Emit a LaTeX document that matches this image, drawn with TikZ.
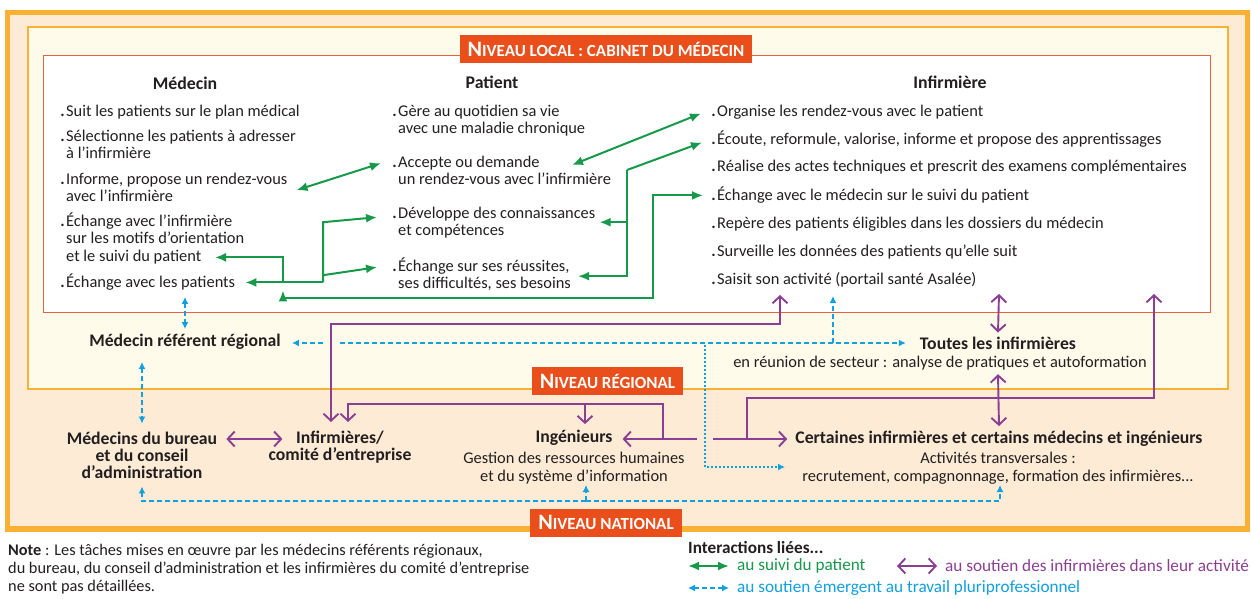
\documentclass[tikz,border=0pt]{standalone}
\usepackage{fontspec}
\setmainfont{Carlito}
\usetikzlibrary{arrows.meta,calc}
\definecolor{orng}{HTML}{F8B133}
\definecolor{peach}{HTML}{FDEBD6}
\definecolor{cream}{HTML}{FFFBEB}
\definecolor{redl}{HTML}{E8603C}
\definecolor{tbox}{HTML}{E94E1B}
\definecolor{gr}{HTML}{17994A}
\definecolor{bl}{HTML}{12A0E0}
\definecolor{pu}{HTML}{8B3F93}
\definecolor{tx}{HTML}{231F20}
\newcommand\bodyfont{\fontsize{16.4}{17.5}\selectfont\lineskiplimit=-10pt\relax}
\newcommand\lblfont{\bfseries\fontsize{17.7}{17}\selectfont\lineskiplimit=-10pt\relax}
\newcommand\notefont{\fontsize{16.3}{18}\selectfont\lineskiplimit=-10pt\relax}
\newcommand\sst{\rule{0pt}{14pt}}
\newcommand\dst{\rule[-4.5pt]{0pt}{4.5pt}}
\newcommand\bul{\makebox[0pt][r]{\textbf{.}\hspace{1.5pt}}}
\newcommand\smc[2]{{\fontsize{22}{22}\selectfont #1}{\fontsize{17}{17}\selectfont #2}}
\newcommand\IT[4]{\node[itm] (#1) at (#2,#3-10) {\bul\sst #4\dst};}
\tikzset{
  itm/.style={anchor=north west, inner sep=0pt, align=left, font=\bodyfont, text=tx},
  hdr/.style={inner sep=0pt, font=\bfseries\fontsize{17.8}{19}\selectfont, text=tx},
  lbl/.style={inner sep=0pt, align=center, font=\lblfont, text=tx},
  sub/.style={inner sep=0pt, align=center, font=\bodyfont, text=tx},
  lvl/.style={fill=tbox, text=white, font=\bfseries, inner sep=0pt, minimum height=28pt},
  leg/.style={anchor=west, inner sep=0pt, font=\fontsize{17.2}{18}\selectfont},
  gar/.style={draw=gr, line width=2pt, >={Latex[length=11pt,width=9pt]}},
  bar/.style={draw=bl, line width=1.6pt, dash pattern=on 5pt off 3pt, >={Latex[length=7pt,width=7pt]}},
  bdot/.style={draw=bl, line width=1.4pt, dash pattern=on 2pt off 2pt, >={Latex[length=7pt,width=7pt]}},
  par/.style={draw=pu, line width=1.9pt, >={Straight Barb[length=7pt,width=15pt]}},
}
\begin{document}
\begin{tikzpicture}[x=1pt,y=-1pt]
\useasboundingbox (0,0) rectangle (1251,599);
\fill[white] (0,0) rectangle (1251,599);
% frames
\draw[orng, line width=5.5pt, fill=peach] (7.5,12.5) rectangle (1247.5,529);
\draw[orng, line width=2pt, fill=cream] (28,27) rectangle (1228,389);
\draw[redl, line width=1pt, fill=white] (43,56) rectangle (1210,312);
% level labels
\node[lvl, minimum width=292pt] (tl) at (606,49) {\smc{N}{IVEAU LOCAL : CABINET DU MÉDECIN}};
\node[lvl, minimum width=151pt] (tr) at (607.5,381) {\smc{N}{IVEAU RÉGIONAL}};
\node[lvl, minimum width=152pt] (tn) at (606,522.5) {\smc{N}{IVEAU NATIONAL}};
% headers
\node[hdr] (hM) at (185,83) {Médecin};
\node[hdr] (hP) at (492,82) {Patient};
\node[hdr] (hI) at (950,82) {Infirmière};
% Médecin
\IT{m1}{66}{112}{Suit les patients sur le plan médical}
\IT{m2}{66}{137}{Sélectionne les patients à adresser\\à l’infirmière}
\IT{m3}{66}{180}{Informe, propose un rendez-vous\\avec l’infirmière}
\IT{m4}{66}{222}{Échange avec l’infirmière\\sur les motifs d’orientation\\et le suivi du patient}
\IT{m5}{66}{283}{Échange avec les patients}
% Patient
\IT{p1}{398}{112}{Gère au quotidien sa vie\\avec une maladie chronique}
\IT{p2}{398}{163}{Accepte ou demande\\un rendez-vous avec l’infirmière}
\IT{p3}{398}{214}{Développe des connaissances\\et compétences}
\IT{p4}{398}{267}{Échange sur ses réussites,\\ses difficultés, ses besoins}
% Infirmière
\IT{i1}{717}{112}{Organise les rendez-vous avec le patient}
\IT{i2}{717}{140}{Écoute, reformule, valorise, informe et propose des apprentissages}
\IT{i3}{717}{167}{Réalise des actes techniques et prescrit des examens complémentaires}
\IT{i4}{717}{196}{Échange avec le médecin sur le suivi du patient}
\IT{i5}{717}{224}{Repère des patients éligibles dans les dossiers du médecin}
\IT{i6}{717}{252}{Surveille les données des patients qu’elle suit}
\IT{i7}{717}{280}{Saisit son activité (portail santé Asalée)}
% other actors
\node[lbl] (mrr) at (185,342) {Médecin référent régional};
\node[lbl] (toutes) at (998,343) {Toutes les infirmières};
\node[sub] (toutesd) at (940,363) {en réunion de secteur : analyse de pratiques et autoformation};
\node[lbl] (mdb) at (142,455) {Médecins du bureau\\et du conseil\\d’administration};
\node[lbl] (inf) at (340,447) {Infirmières/\\comité d’entreprise};
\node[lbl] (ing) at (574,438) {Ingénieurs};
\node[sub] (ingd) at (574,468) {Gestion des ressources humaines\\et du système d’information};
\node[lbl] (cert) at (999,439) {Certaines infirmières et certains médecins et ingénieurs};
\node[sub] (certd) at (998,468) {Activités transversales :\\recrutement, compagnonnage, formation des infirmières...};
% green connectors
\draw[gar,<->] ($(m3.east)+(9,2)$) -- ($(p2.west)+(-17,-8)$);
\draw[gar,<->] ($(p2.north west)+(174,12)$) -- ($(i1.west)+(-16,2)$);
\coordinate (g3) at (627,170);
\draw[gar,->] (g3) -- ($(i2.west)+(-15,3)$);
\draw[gar,->] (g3) |- ($(p4.east)+(7,1)$);
\draw[gar,->] (g3 |- p3.east) -- ($(p3.east)+(4,0)$);
\coordinate (g4x) at (323,0);
\draw[gar,->] (g4x |- m5.east) -- ($(m5.east)+(10,0)$);
\draw[gar,->] (g4x |- m5.east) -- (g4x |- p3.west) -- ($(p3.west)+(-21,-5)$);
\draw[gar,->] (g4x |- p4.west) -- ($(p4.west)+(-21,-8)$);
\coordinate (g5x) at (283,0);
\draw[gar,<-] ($(m4.south west)+(149,-8.5)$) -| ($(g5x |- m5.east)+(0,-1.5)$);
\draw[gar,<->] ($(g5x |- m5.east)+(0,8)$) |- (653,298) |- ($(i4.west)+(-14,0)$);
% blue connectors
\draw[bar,<->] ($(mrr.north |- m5.south)+(0,5)$) -- ($(mrr.north)+(0,-5)$);
\draw[bar,<->] (142,362) -- ($(mdb.north)+(0,-8)$);
\draw[bar,->] (323,343) -- ($(mrr.east)+(11,1)$);
\draw[bar,->] (340,343) -- ($(toutes.west)+(-14,0)$);
\draw[bar,->] (833,343) -- (833,296);
\draw[bdot,->] (705,345) |- (785,467);
\draw[bar,->] (586,501) -- (586,485);
\draw[bar,->] (586,501) -| ($(mdb.south)+(0,8)$);
\draw[bar,->] (586,501) -| (1000,485);
% purple connectors
\draw[par,<->] (780,295) |- (331,324) -- (331,422);
\draw[par,<->] (999,294) -- ($(toutes.north)+(0,-4)$);
\draw[par,<->] ($(toutesd.south -| toutes.south)+(0,4)$) -- ($(cert.north)+(0,-5)$);
\draw[par,->] (697,439) -- ($(ing.east)+(10,1)$);
\draw[par,->] (663,439) -- (663,404) -- (348,404) -- (348,422);
\draw[par,->] (585,404) -- ($(ing.north)+(11,-6)$);
\draw[par,->] (713,439) -- ($(cert.west)+(-8,0)$);
\draw[par,->] (747,439) |- (1154,398) -- (1154,294);
\draw[par,<->] ($(mdb.east |- ing)+(9,1)$) -- ($(inf.west |- ing)+(14,1)$);
% note
\node[anchor=north west, inner sep=0pt, align=left, font=\notefont, text=tx] (note) at (8,541) {\sst\textbf{Note} : Les tâches mises en œuvre par les médecins référents régionaux,\\du bureau, du conseil d’administration et les infirmières du comité d’entreprise\\ne sont pas détaillées.};
% legend
\node[leg, font=\bfseries\fontsize{17.2}{18}\selectfont, text=tx] (lt) at (688,548) {Interactions liées...};
\node[leg, text=gr] (lg) at (737,566) {au suivi du patient};
\node[leg, text=pu] (lp) at (945,566) {au soutien des infirmières dans leur activité};
\node[leg, text=bl] (lb) at (737,588) {au soutien émergent au travail pluriprofessionnel};
\draw[gar,<->] ($(lg.west)+(-49,0)$) -- ($(lg.west)+(-8,0)$);
\draw[par,<->] ($(lp.west)+(-48,0)$) -- ($(lp.west)+(-8,0)$);
\draw[bar,<->] ($(lb.west)+(-49,0)$) -- ($(lb.west)+(-8,0)$);
\end{tikzpicture}
\end{document}
